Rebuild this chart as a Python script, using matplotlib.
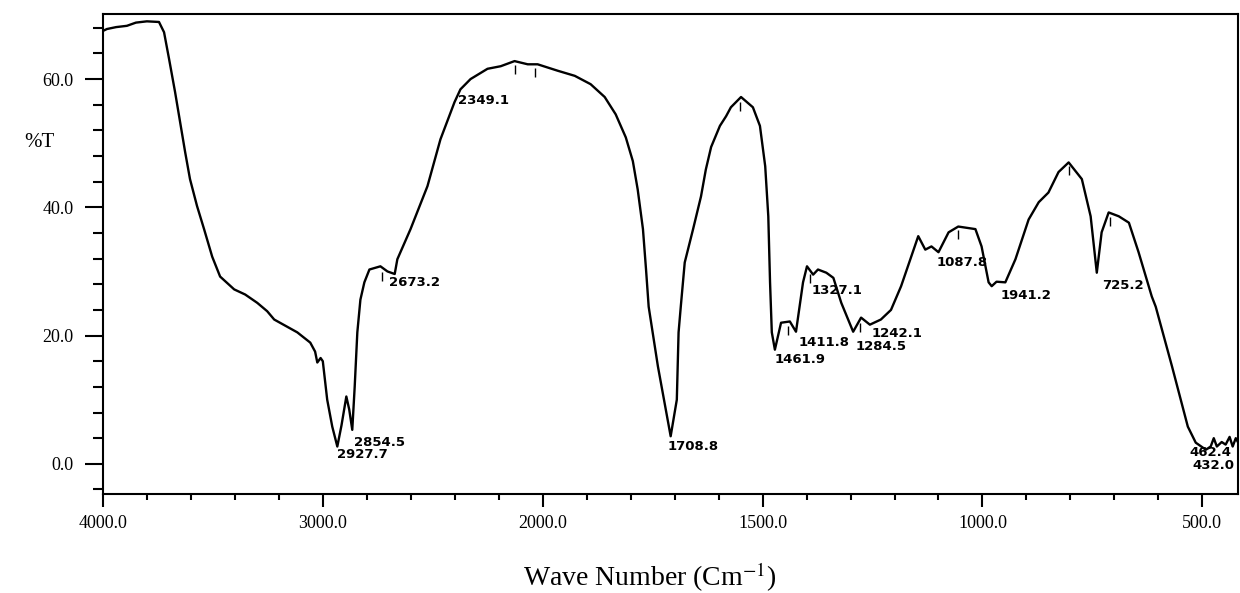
import matplotlib
matplotlib.use('Agg')
import matplotlib.pyplot as plt
import numpy as np
from matplotlib.ticker import FixedLocator, FormatStrFormatter

plt.rcParams['font.family'] = ['Liberation Serif', 'DejaVu Serif']
plt.rcParams['mathtext.fontset'] = 'stix'

# spectrum (wavenumber in cm-1, %T)
wavenumber = [4000, 3982, 3940, 3891, 3850, 3800, 3745, 3722, 3699, 3672,
              3649, 3626, 3604, 3572, 3540, 3503, 3467, 3403, 3353, 3298,
              3253, 3221, 3116, 3057, 3035, 3025, 3010, 3000, 2980, 2957,
              2934, 2915, 2893, 2880, 2866, 2855, 2843, 2829, 2811, 2788,
              2738, 2706, 2673, 2661, 2601, 2524, 2465, 2401, 2374, 2328,
              2251, 2191, 2128, 2068, 2023, 1966, 1927, 1891, 1859, 1834,
              1811, 1795, 1784, 1772, 1765, 1759, 1738, 1709, 1695, 1691,
              1686, 1677, 1658, 1640, 1629, 1617, 1597, 1583, 1572, 1549,
              1522, 1506, 1494, 1487, 1483, 1479, 1472, 1458, 1438, 1424,
              1408, 1399, 1385, 1374, 1355, 1339, 1321, 1294, 1276, 1256,
              1231, 1208, 1185, 1162, 1146, 1130, 1116, 1100, 1077, 1055,
              1016, 1002, 986, 979, 968, 948, 925, 895, 872, 850,
              827, 804, 774, 754, 740, 729, 713, 690, 667, 645,
              615, 606, 569, 549, 533, 515, 492, 481, 474, 467,
              456, 447, 438, 431, 424, 420]
transmittance = [67.5, 67.8, 68.1, 68.3, 68.8, 69.0, 68.9, 67.3, 63.1, 58.0,
                 53.3, 48.6, 44.4, 40.2, 36.6, 32.3, 29.2, 27.2, 26.4, 25.1,
                 23.8, 22.5, 20.5, 18.9, 17.5, 15.8, 16.5, 16.0, 10.0, 5.8,
                 2.7, 6.0, 10.5, 8.5, 5.3, 12.0, 20.5, 25.6, 28.3, 30.3,
                 30.8, 30.0, 29.6, 31.9, 36.6, 43.3, 50.6, 56.4, 58.4, 60.0,
                 61.6, 62.0, 62.8, 62.3, 62.3, 61.3, 60.5, 59.2, 57.2, 54.5,
                 50.9, 47.2, 42.8, 36.6, 30.3, 24.5, 15.2, 4.3, 10.0, 20.5,
                 24.5, 31.4, 36.6, 41.7, 45.9, 49.4, 52.7, 54.2, 55.6, 57.2,
                 55.6, 52.7, 46.4, 38.6, 28.3, 20.5, 17.8, 22.0, 22.2, 20.6,
                 28.3, 30.8, 29.5, 30.3, 29.8, 29.0, 25.1, 20.6, 22.8, 21.7,
                 22.5, 24.0, 27.7, 32.3, 35.5, 33.4, 33.9, 33.0, 36.1, 37.0,
                 36.6, 33.9, 28.3, 27.7, 28.4, 28.3, 31.9, 38.1, 40.8, 42.3,
                 45.5, 47.0, 44.4, 38.6, 29.8, 36.1, 39.2, 38.6, 37.6, 33.0,
                 26.1, 24.5, 15.2, 10.0, 5.8, 3.3, 2.2, 2.7, 4.0, 2.7,
                 3.4, 3.0, 4.2, 2.7, 4.0, 3.5]

# peak labels and where they sit
peak_labels = ['2927.7', '2854.5', '2673.2', '2349.1', '1708.8', '1461.9',
               '1411.8', '1327.1', '1284.5', '1242.1', '1087.8', '1941.2',
               '725.2', '432.0', '462.4']
label_x = [2934, 2857, 2697, 2387, 1715, 1472, 1419, 1389, 1289, 1253,
           1105, 959, 729, 522, 530]
label_y = [1.4, 3.4, 28.3, 56.6, 2.7, 16.3, 18.9, 27.0, 18.3, 20.3,
           31.4, 26.3, 27.8, -0.3, 1.7]

# little peak marks under the curve
mark_wn = [2729, 2128, 2036, 1551, 1442, 1392, 1278, 1055, 804, 709]


def fwd(x):
    x = np.asarray(x, dtype=float)
    return np.where(x > 2000, 2000 + (x - 2000) / 2, x)


def inv(u):
    u = np.asarray(u, dtype=float)
    return np.where(u > 2000, 2000 + (u - 2000) * 2, u)


fig = plt.figure(figsize=(12.4, 5.93), dpi=100)
ax = fig.add_axes([0.083, 0.167, 0.915, 0.81])

ax.plot(wavenumber, transmittance, color='black', linewidth=1.7,
        solid_joinstyle='round')

wn_inc = np.array(wavenumber[::-1], dtype=float)
t_inc = np.array(transmittance[::-1], dtype=float)
mark_t = np.interp(mark_wn, wn_inc, t_inc)
ax.vlines(mark_wn, mark_t - 2.0, mark_t - 0.6, color='black', linewidth=1.0)

for txt, lx, ly in zip(peak_labels, label_x, label_y):
    ax.text(lx, ly, txt, ha='left', va='center', fontsize=9.5,
            fontweight='bold', family='DejaVu Sans', clip_on=False)

ax.set_xscale('function', functions=(fwd, inv))
ax.set_xlim(4000, 420)
ax.set_ylim(-4.7, 70.2)

ax.xaxis.set_major_locator(FixedLocator([4000, 3000, 2000, 1500, 1000, 500]))
minor_x = [3800, 3600, 3400, 3200, 2800, 2600, 2400, 2200,
           1900, 1800, 1700, 1600, 1400, 1300, 1200, 1100,
           900, 800, 700, 600]
ax.xaxis.set_minor_locator(FixedLocator(minor_x))
ax.xaxis.set_major_formatter(FormatStrFormatter('%.1f'))

ax.yaxis.set_major_locator(FixedLocator([0, 20, 40, 60]))
ax.yaxis.set_minor_locator(FixedLocator([-4, 4, 8, 12, 16, 24, 28, 32, 36,
                                         44, 48, 52, 56, 64, 68]))
ax.yaxis.set_major_formatter(FormatStrFormatter('%.1f'))

ax.tick_params(axis='x', which='major', length=9.5, width=1.5,
               direction='out', pad=6, labelsize=13)
ax.tick_params(axis='x', which='minor', length=4, width=1.5, direction='out')
ax.tick_params(axis='y', which='major', length=13, width=1.5,
               direction='out', pad=8, labelsize=13)
ax.tick_params(axis='y', which='minor', length=7, width=1.5, direction='out')

for sp in ax.spines.values():
    sp.set_linewidth(1.5)

fig.text(0.032, 0.759, '%T', ha='center', va='center', fontsize=15)
fig.text(0.524, 0.027, 'Wave Number (Cm$^{-1}$)', ha='center', va='center',
         fontsize=20)

plt.savefig('out.png', dpi=100)
